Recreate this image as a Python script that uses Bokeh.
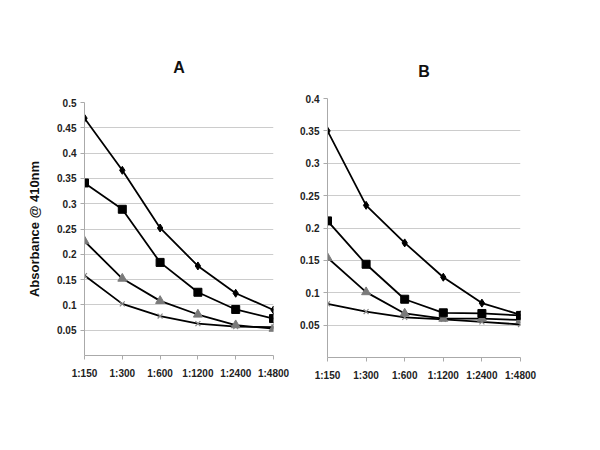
from bokeh.plotting import figure
from bokeh.layouts import row, column
from bokeh.models import FixedTicker, Range1d, Spacer, Title
from bokeh.embed import file_html
from bokeh.resources import INLINE

dilutions = ["1:150", "1:300", "1:600", "1:1200", "1:2400", "1:4800"]

# Panel A
a_diamond = [0.469, 0.366, 0.252, 0.177, 0.123, 0.090]
a_square = [0.341, 0.289, 0.184, 0.125, 0.091, 0.073]
a_triangle = [0.226, 0.152, 0.108, 0.081, 0.060, 0.053]
a_cross = [0.158, 0.102, 0.078, 0.063, 0.057, 0.056]

# Panel B
b_diamond = [0.350, 0.235, 0.177, 0.124, 0.084, 0.066]
b_square = [0.211, 0.144, 0.090, 0.069, 0.068, 0.065]
b_triangle = [0.154, 0.101, 0.068, 0.060, 0.060, 0.058]
b_cross = [0.083, 0.071, 0.062, 0.059, 0.055, 0.051]

a_yticks = [0.05, 0.1, 0.15, 0.2, 0.25, 0.3, 0.35, 0.4, 0.45, 0.5]
b_yticks = [0.05, 0.1, 0.15, 0.2, 0.25, 0.3, 0.35, 0.4]

FONT = "Liberation Sans"
xs = list(range(len(dilutions)))


def make_panel(title, ymax, yticks, series, fw, fh, bl, br, bt, bb, spacer_title, ylabel=None):
    p = figure(output_backend="svg", toolbar_location=None,
               frame_width=fw, frame_height=fh,
               min_border_left=bl, min_border_right=br,
               min_border_top=bt, min_border_bottom=bb,
               x_range=Range1d(0, len(dilutions) - 1),
               y_range=Range1d(0, ymax), title=title)
    p.outline_line_color = None
    p.title.text_font = FONT
    p.title.text_font_size = "16px"
    p.title.text_font_style = "bold"
    p.title.text_color = "#111111"
    p.title.align = "center"
    if spacer_title:
        p.add_layout(Title(text=" ", text_font_size=spacer_title), "above")

    p.xaxis.ticker = FixedTicker(ticks=xs)
    p.xaxis.major_label_overrides = {i: lab for i, lab in enumerate(dilutions)}
    p.yaxis.ticker = FixedTicker(ticks=yticks)
    p.ygrid.ticker = FixedTicker(ticks=yticks)
    p.xgrid.visible = False
    p.ygrid.grid_line_color = "#cccccc"
    p.ygrid.grid_line_width = 1

    for ax in (p.xaxis[0], p.yaxis[0]):
        ax.axis_line_color = "#aaaaaa"
        ax.major_tick_line_color = "#aaaaaa"
        ax.minor_tick_line_color = None
        ax.major_tick_in = 0
        ax.major_tick_out = 4
        ax.major_label_text_font = FONT
        ax.major_label_text_font_size = "10px"
        ax.major_label_text_font_style = "bold"
        ax.major_label_text_color = "#222222"
    p.xaxis.major_label_standoff = 8
    p.yaxis.major_label_standoff = 4
    p.yaxis.major_label_orientation = "horizontal"

    if ylabel:
        p.yaxis.axis_label = ylabel
        p.yaxis.axis_label_text_font = FONT
        p.yaxis.axis_label_text_font_size = "13px"
        p.yaxis.axis_label_text_font_style = "bold"
        p.yaxis.axis_label_text_color = "#111111"
        p.yaxis.axis_label_standoff = 12

    d, s, t, c = series
    p.line(xs, d, line_color="black", line_width=1.8)
    p.line(xs, s, line_color="black", line_width=1.8)
    p.line(xs, t, line_color="black", line_width=1.8)
    p.line(xs, c, line_color="black", line_width=1.8)
    p.scatter(xs, c, marker="x", size=7, line_color="#8a8a8a", line_width=1.2)
    p.scatter(xs, t, marker="triangle", size=9, fill_color="#7a7a7a", line_color="#7a7a7a")
    p.scatter(xs, s, marker="square", size=8, fill_color="black", line_color="black")
    p.scatter(xs, d, marker="diamond", size=8, fill_color="black", line_color="black")
    return p


pA = make_panel("A", 0.5, a_yticks, (a_diamond, a_square, a_triangle, a_cross),
                fw=189, fh=253, bl=84, br=20, bt=102, bb=45, spacer_title="9px",
                ylabel="Absorbance @ 410nm")
pB = make_panel("B", 0.4, b_yticks, (b_diamond, b_square, b_triangle, b_cross),
                fw=193, fh=259, bl=34, br=40, bt=98, bb=43, spacer_title="2px")

layout = row(column(Spacer(width=10, height=0), pA),
             column(Spacer(width=10, height=0), pB))
open("out.html", "w").write(file_html(layout, INLINE))
